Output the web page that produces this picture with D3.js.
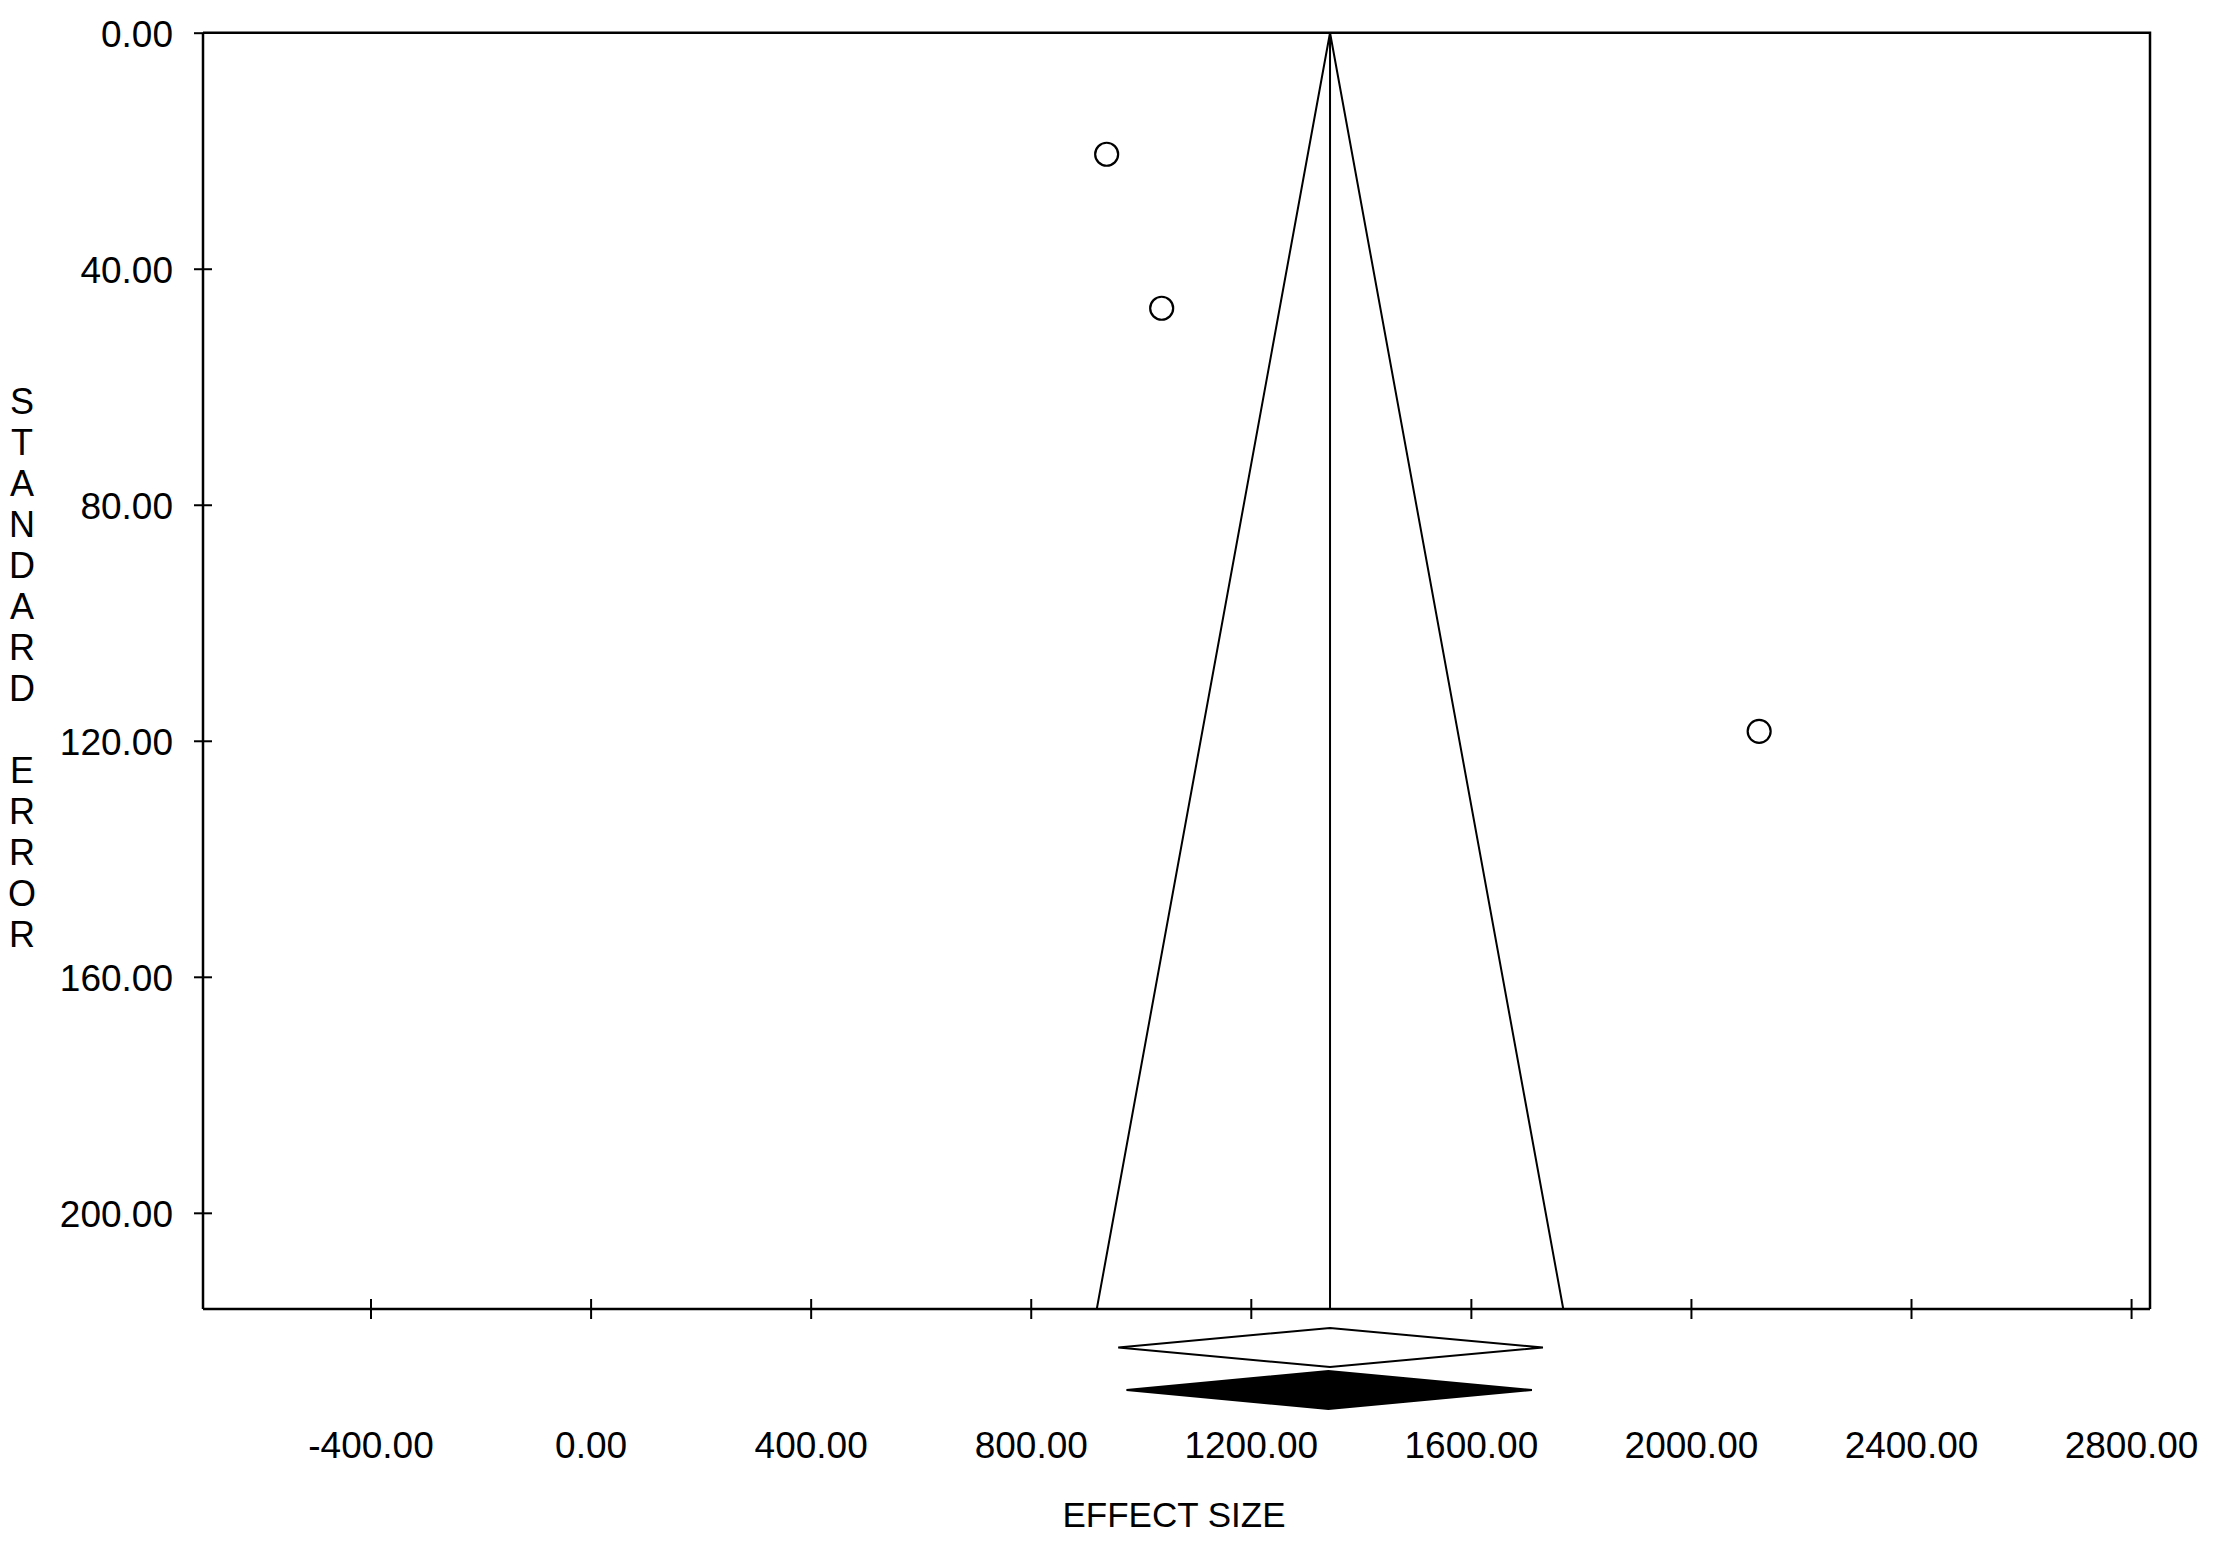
<!DOCTYPE html>
<html>
<head>
<meta charset="utf-8">
<script src="https://cdn.jsdelivr.net/npm/d3@7"></script>
<style>
html,body{margin:0;padding:0;background:#fff;}
text{font-family:"Liberation Sans",Arial,sans-serif;fill:#000;}
</style>
</head>
<body>
<svg id="chart" width="2223" height="1547"></svg>
<script>
// ---- data ----
const studyEffect = [938, 1038, 2124];
const studySE = [20.6, 46.7, 118.4];
const pooledEffect = 1344;
const observedCI = [959, 1344, 1731];   // lower, estimate, upper
const adjustedCI = [974, 1341, 1711];
const xTicks = [-400, 0, 400, 800, 1200, 1600, 2000, 2400, 2800];
const yTicks = [0, 40, 80, 120, 160, 200];
const xLabel = "EFFECT SIZE";
const yLabel = "STANDARD ERROR";

// ---- layout ----
const L = 203, R = 2150, T = 32.7, B = 1309;
const svg = d3.select("#chart");
const x = d3.scaleLinear().domain([-704.5, 2834.4]).range([L, R]);
const y = d3.scaleLinear().domain([0, 216.3]).range([T, B]);
const fmt = d3.formatLocale({decimal: ".", thousands: "", grouping: [3], currency: ["", ""], minus: "-"}).format(".2f");
const FS = 37;

// frame (top & right borders)
svg.append("path")
  .attr("d", `M${L},${T}H${R}V${B}`)
  .attr("fill", "none").attr("stroke", "#000").attr("stroke-width", 2.5);

// y axis
const gy = svg.append("g").attr("transform", `translate(${L},0)`)
  .call(d3.axisLeft(y).tickValues(yTicks).tickSize(9).tickFormat(fmt));
gy.select(".domain").attr("stroke", "#000").attr("stroke-width", 2.5).attr("d", `M0,${T}V${B}`);
gy.selectAll(".tick line").attr("x1", 9).attr("x2", -9).attr("stroke", "#000").attr("stroke-width", 2);
gy.selectAll(".tick").filter(d => d === 0).select("line").attr("x1", 0);
gy.selectAll(".tick text").attr("x", -30).attr("dy", "0.36em")
  .style("font-size", FS + "px").style("font-family", '"Liberation Sans",Arial,sans-serif').attr("fill", "#000");

// x axis
const gx = svg.append("g").attr("transform", `translate(0,${B})`)
  .call(d3.axisBottom(x).tickValues(xTicks).tickSize(10).tickFormat(fmt));
gx.select(".domain").attr("stroke", "#000").attr("stroke-width", 2.5).attr("d", `M${L},0H${R}`);
gx.selectAll(".tick line").attr("y1", -10).attr("y2", 10).attr("stroke", "#000").attr("stroke-width", 2);
gx.selectAll(".tick text").attr("y", 136).attr("dy", "0.36em")
  .style("font-size", FS + "px").style("font-family", '"Liberation Sans",Arial,sans-serif').attr("fill", "#000");

// funnel
const seMax = y.domain()[1];
svg.append("path")
  .attr("d", d3.line()([
    [x(pooledEffect - 1.96 * seMax), y(seMax)],
    [x(pooledEffect), y(0)],
    [x(pooledEffect + 1.96 * seMax), y(seMax)]
  ]))
  .attr("fill", "none").attr("stroke", "#000").attr("stroke-width", 2);
svg.append("line")
  .attr("x1", x(pooledEffect)).attr("x2", x(pooledEffect))
  .attr("y1", y(0)).attr("y2", y(seMax))
  .attr("stroke", "#000").attr("stroke-width", 2);

// studies
svg.selectAll("circle.study").data(studyEffect).enter().append("circle")
  .attr("class", "study")
  .attr("cx", d => x(d)).attr("cy", (d, i) => y(studySE[i]))
  .attr("r", 11.5).attr("fill", "#fff").attr("stroke", "#000").attr("stroke-width", 2.2);

// diamonds
function diamond(ci, cy, h, filled) {
  svg.append("path")
    .attr("d", d3.line()([
      [x(ci[0]), cy], [x(ci[1]), cy - h], [x(ci[2]), cy], [x(ci[1]), cy + h]
    ]) + "Z")
    .attr("fill", filled ? "#000" : "#fff")
    .attr("stroke", "#000").attr("stroke-width", 2);
}
diamond(observedCI, 1347.5, 19.5, false);
diamond(adjustedCI, 1390, 19, true);

// axis titles
svg.append("text").attr("x", 1174).attr("y", 1514).attr("dy", "0.36em")
  .attr("text-anchor", "middle").style("font-size", "35px").text(xLabel);
const yl = svg.append("text").attr("text-anchor", "middle").style("font-size", "36px");
yLabel.split("").forEach((ch, i) => {
  yl.append("tspan").attr("x", 22).attr("y", 401 + i * 41).attr("dy", "0.36em").text(ch === " " ? "\u00a0" : ch);
});
</script>
</body>
</html>
